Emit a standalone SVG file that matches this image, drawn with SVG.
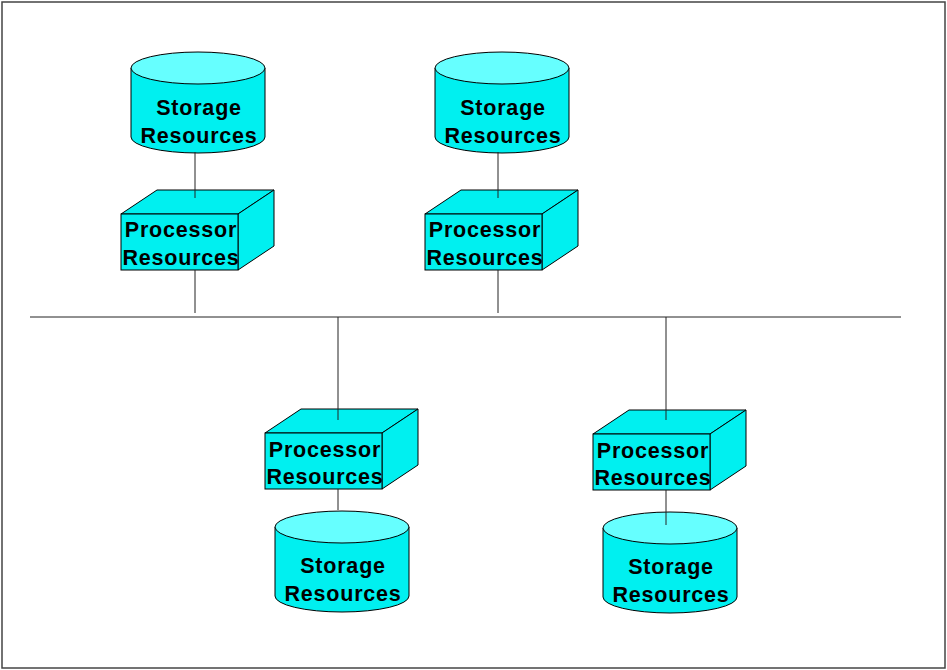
<svg xmlns="http://www.w3.org/2000/svg" width="947" height="670" viewBox="0 0 947 670">
  <defs>
    <style>
      .frame { fill: #ffffff; stroke: #444444; stroke-width: 1.5; }
      .wire { stroke: #222222; stroke-width: 1; fill: none; }
      .body { fill: #00f0f0; stroke: #000000; stroke-width: 1; }
      .lid { fill: #66ffff; stroke: #000000; stroke-width: 1; }
      .face { fill: #00f0f0; stroke: #000000; stroke-width: 1; stroke-linejoin: miter; }
      .label { font-family: "Liberation Sans", Arial, sans-serif; font-weight: bold; font-size: 21.5px; letter-spacing: 0.8px; fill: #000000; text-anchor: middle; }
    </style>
    <!-- cylinder: 134 wide, lid centred at y=0 -->
    <g id="cyl">
      <path class="body" d="M0,0 V69 A67,16 0 0 0 134,69 V0 Z"/>
      <ellipse class="lid" cx="67" cy="0" rx="67" ry="16"/>
    </g>
    <!-- box: front face 117x56, depth offset (36,-24) -->
    <g id="box">
      <path class="face" d="M0,0 L36,-24 L153,-24 L117,0 Z"/>
      <path class="face" d="M117,0 L153,-24 L153,32 L117,56 Z"/>
      <rect class="face" x="0" y="0" width="117" height="56"/>
    </g>
  </defs>

  <rect class="frame" x="2" y="2" width="943" height="666"/>

  <!-- top-left column -->
  <g id="storage-1">
    <use href="#cyl" x="131" y="68"/>
    <text class="label" x="199" y="115">Storage</text>
    <text class="label" x="199" y="143">Resources</text>
  </g>
  <g id="processor-1">
    <use href="#box" x="121" y="214"/>
    <text class="label" x="181" y="237">Processor</text>
    <text class="label" x="181" y="265">Resources</text>
  </g>

  <!-- top-right column -->
  <g id="storage-2">
    <use href="#cyl" x="435" y="68"/>
    <text class="label" x="503" y="115">Storage</text>
    <text class="label" x="503" y="143">Resources</text>
  </g>
  <g id="processor-2">
    <use href="#box" x="425" y="214"/>
    <text class="label" x="485" y="237">Processor</text>
    <text class="label" x="485" y="265">Resources</text>
  </g>

  <!-- bottom-left column -->
  <g id="processor-3">
    <use href="#box" x="265" y="433"/>
    <text class="label" x="325" y="457">Processor</text>
    <text class="label" x="325" y="484">Resources</text>
  </g>
  <g id="storage-3">
    <use href="#cyl" x="275" y="527"/>
    <text class="label" x="343" y="573">Storage</text>
    <text class="label" x="343" y="601">Resources</text>
  </g>

  <!-- bottom-right column -->
  <g id="processor-4">
    <use href="#box" x="593" y="434"/>
    <text class="label" x="653" y="458">Processor</text>
    <text class="label" x="653" y="485">Resources</text>
  </g>
  <g id="storage-4">
    <use href="#cyl" x="603" y="528"/>
    <text class="label" x="671" y="574">Storage</text>
    <text class="label" x="671" y="602">Resources</text>
  </g>

  <!-- connectors, drawn over the node outlines -->
  <g id="connectors">
    <line class="wire" x1="30" y1="317" x2="901" y2="317"/>
    <line class="wire" x1="195" y1="152" x2="195" y2="198"/>
    <line class="wire" x1="195" y1="270" x2="195" y2="313"/>
    <line class="wire" x1="498" y1="152" x2="498" y2="198"/>
    <line class="wire" x1="498" y1="270" x2="498" y2="313"/>
    <line class="wire" x1="338" y1="317" x2="338" y2="420"/>
    <line class="wire" x1="338" y1="489" x2="338" y2="510"/>
    <line class="wire" x1="666" y1="317" x2="666" y2="420"/>
    <line class="wire" x1="666" y1="490" x2="666" y2="525"/>
  </g>
</svg>
